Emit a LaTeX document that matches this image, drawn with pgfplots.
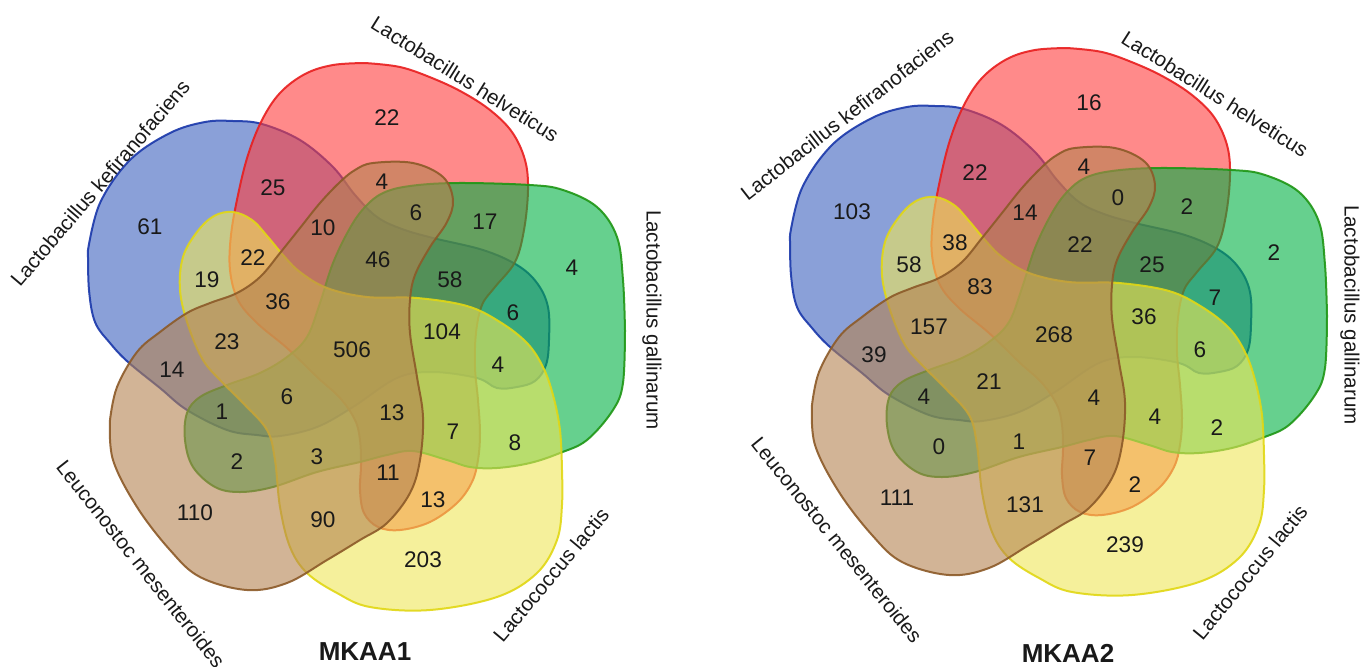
\documentclass[border=0pt]{standalone}
\usepackage{pgfplots}
\pgfplotsset{compat=1.18}
\usepackage{pgfplotstable}
\usepackage{fontspec}
\setmainfont{Liberation Sans}

% fill and outline colours of the five sets
\definecolor{kefF}{RGB}{60,97,190}
\definecolor{kefD}{RGB}{25,55,170}
\definecolor{helF}{RGB}{255,60,60}
\definecolor{helD}{RGB}{232,30,30}
\definecolor{galF}{RGB}{0,176,66}
\definecolor{galD}{RGB}{30,150,20}
\definecolor{lacF}{RGB}{238,230,88}
\definecolor{lacD}{RGB}{225,215,20}
\definecolor{leuF}{RGB}{180,130,80}
\definecolor{leuD}{RGB}{140,90,40}
\definecolor{txt}{RGB}{25,25,25}

\newcommand\numfont{\fontsize{11.3}{13}\selectfont}
\newcommand\labfont{\fontsize{10.3}{12}\selectfont}

% outlines of the five sets (pixel-like units, y pointing down)
\pgfplotstableread{
x y
88 250
100 203
130 160
170 133
205 122
233 121
262 124
300 140
333 167
355 195
377 217
402 229
433 238
483 250
517 265
537 283
548 307
549 340
546 365
535 381
517 387
497 388
477 378
433 372
397 378
353 407
317 427
280 436
257 435
227 430
187 410
160 388
128 362
110 343
95 322
89 290
88 250
}\kefshape

\pgfplotstableread{
x y
365 63
400 67
432 78
462 92
490 110
512 132
525 160
528 190
524 230
515 262
495 287
482 305
476 333
475 367
478 400
480 433
478 460
472 482
457 503
430 522
400 530
378 527
364 513
360 490
361 465
360 440
355 420
340 398
317 377
287 348
257 323
238 300
230 270
231 235
238 195
248 155
262 120
280 93
305 74
333 65
365 63
}\helshape

\pgfplotstableread{
x y
625 330
623 383
613 410
587 440
560 453
530 463
497 468
470 467
447 460
413 451
387 455
360 462
317 472
273 487
240 492
215 487
193 467
185 440
187 413
200 397
227 385
260 373
287 357
307 337
320 303
333 263
350 228
365 207
383 193
410 186
457 183
530 185
563 190
597 207
617 237
623 280
625 330
}\galshape

\pgfplotstableread{
x y
562 470
562 505
557 540
537 573
497 597
430 610
370 607
337 593
307 573
290 547
280 507
275 460
267 430
243 403
222 382
203 360
188 325
180 290
183 257
197 232
214 216
233 212
252 220
268 237
283 255
300 272
327 288
367 297
417 298
467 306
500 322
527 343
543 367
553 395
560 430
562 470
}\lacshape

\pgfplotstableread{
x y
110 420
117 387
137 352
160 332
187 313
210 303
237 293
260 277
280 253
300 228
320 203
340 182
355 170
373 163
413 163
443 177
453 200
447 222
430 247
415 275
410 300
410 333
417 377
423 417
420 460
410 493
387 523
360 540
327 560
287 583
247 590
200 577
170 550
137 507
113 460
110 420
}\leushape

% region counts: position, MKAA1 count, MKAA2 count
\pgfplotstableread{
x y a b
150 227 61 103
387 118 22 16
572 268 4 2
423 560 203 239
195 513 110 111
273 188 25 22
382 182 4 4
323 228 10 14
416 213 6 0
485 222 17 2
253 258 22 38
378 260 46 22
207 280 19 58
278 302 36 83
450 280 58 25
513 313 6 7
442 332 104 36
227 342 23 157
352 350 506 268
172 370 14 39
498 365 4 6
287 397 6 21
222 412 1 4
392 413 13 4
453 432 7 4
515 443 8 2
237 462 2 0
317 457 3 1
388 473 11 7
433 500 13 2
323 520 90 131
}\counts

\pgfplotsset{
  vennpanel/.style={
    width=340.5pt, height=333pt, scale only axis,
    y dir=reverse, hide axis, clip=false,
  },
  vennset/.style n args={2}{
    smooth, tension=0.6, mark=none, line width=1pt,
    draw=#1, draw opacity=0.9, fill=#2, fill opacity=0.6,
  },
  countlabels/.style={
    only marks, mark=none, nodes near coords,
    point meta=explicit symbolic,
    nodes near coords style={anchor=center, font=\numfont, text=txt, text opacity=1},
  },
}

\begin{document}
\begin{tikzpicture}
% ---------- MKAA1 ----------
\begin{axis}[vennpanel, xmin=0, xmax=681, ymin=0, ymax=666]
\addplot[vennset={kefD}{kefF}] table {\kefshape};
\addplot[vennset={helD}{helF}] table {\helshape};
\addplot[vennset={galD}{galF}] table {\galshape};
\addplot[vennset={lacD}{lacF}] table {\lacshape};
\addplot[vennset={leuD}{leuF}] table {\leushape};
\addplot[countlabels] table[x=x, y=y, meta=a] {\counts};
\node[rotate=49.5, font=\labfont, text=txt] at (axis cs:100,183) {Lactobacillus kefiranofaciens};
\node[rotate=-32, font=\labfont, text=txt] at (axis cs:465,79) {Lactobacillus helveticus};
\node[rotate=-90, font=\labfont, text=txt] at (axis cs:652,320) {Lactobacillus gallinarum};
\node[rotate=50, font=\labfont, text=txt] at (axis cs:551,575) {Lactococcus lactis};
\node[rotate=-51.7, font=\labfont, text=txt] at (axis cs:141,564) {Leuconostoc mesenteroides};
\node[font=\bfseries\fontsize{13}{15}\selectfont, text=txt] at (axis cs:365,652) {MKAA1};
\end{axis}
% ---------- MKAA2 ----------
\begin{axis}[vennpanel, at={(340.5pt,0pt)}, xmin=-21, xmax=660, ymin=15, ymax=681]
\addplot[vennset={kefD}{kefF}] table {\kefshape};
\addplot[vennset={helD}{helF}] table {\helshape};
\addplot[vennset={galD}{galF}] table {\galshape};
\addplot[vennset={lacD}{lacF}] table {\lacshape};
\addplot[vennset={leuD}{leuF}] table {\leushape};
\addplot[countlabels] table[x=x, y=y, meta=b] {\counts};
\node[rotate=38, font=\labfont, text=txt] at (axis cs:145,130) {Lactobacillus kefiranofaciens};
\node[rotate=-32.5, font=\labfont, text=txt] at (axis cs:513,109) {Lactobacillus helveticus};
\node[rotate=-90, font=\labfont, text=txt] at (axis cs:648,330) {Lactobacillus gallinarum};
\node[rotate=50.6, font=\labfont, text=txt] at (axis cs:548,587) {Lactococcus lactis};
\node[rotate=-51, font=\labfont, text=txt] at (axis cs:135,555) {Leuconostoc mesenteroides};
\node[font=\bfseries\fontsize{13}{15}\selectfont, text=txt] at (axis cs:366,668) {MKAA2};
\end{axis}
\pgfresetboundingbox
\useasboundingbox (0pt,0pt) rectangle (681pt,333pt);
\end{tikzpicture}
\end{document}
